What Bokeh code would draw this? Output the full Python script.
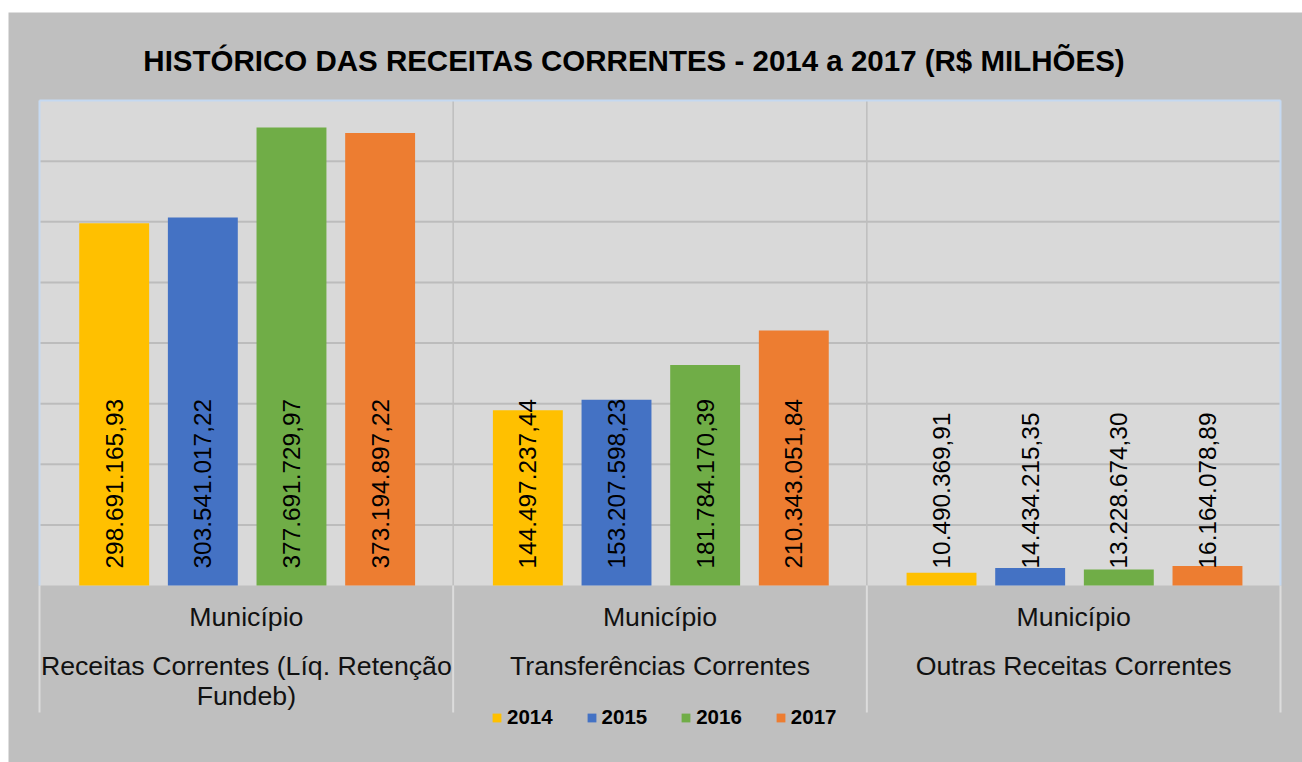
from bokeh.plotting import figure
from bokeh.models import Range1d, Legend, LegendItem, Spacer
from bokeh.layouts import column, row
from bokeh.embed import file_html
from bokeh.resources import INLINE
from bokeh.core.properties import value
import numpy as np

# ---------------- data ----------------
title_text = "HISTÓRICO DAS RECEITAS CORRENTES - 2014 a 2017 (R$ MILHÕES)"
group_level = ["Município", "Município", "Município"]
category_lines = [
    ["Receitas Correntes (Líq. Retenção", "Fundeb)"],
    ["Transferências Correntes"],
    ["Outras Receitas Correntes"],
]
years = ["2014", "2015", "2016", "2017"]
v2014 = [298691165.93, 144497237.44, 10490369.91]
v2015 = [303541017.22, 153207598.23, 14434215.35]
v2016 = [377691729.97, 181784170.39, 13228674.30]
v2017 = [373194897.22, 210343051.84, 16164078.89]
series = [v2014, v2015, v2016, v2017]
colors = ["#FFC000", "#4472C4", "#70AD47", "#ED7D31"]
y_max = 400e6
y_step = 50e6

FONT = "Liberation Sans"

# ---------------- layout geometry (page pixels) ----------------
W, H = 1294, 750          # figure size
CX0, CY0 = 8, 12          # figure origin on the page
PLOT_L, PLOT_R, PLOT_T, PLOT_B = 39, 1280, 100, 585   # plot area on the page
n_cat = len(category_lines)
ppx = (PLOT_R - PLOT_L) / n_cat
ppy = (PLOT_B - PLOT_T) / y_max


def px2x(px):
    return -0.5 + (px - PLOT_L) / ppx


def px2y(py):
    return (PLOT_B - py) / ppy


def fmt_br(v):
    s = f"{v:,.2f}"
    return s.replace(",", "X").replace(".", ",").replace("X", ".")


p = figure(width=W, height=H, output_backend="svg", toolbar_location=None,
           x_range=Range1d(px2x(CX0), px2x(CX0 + W)),
           y_range=Range1d(px2y(CY0 + H), px2y(CY0)),
           x_axis_location=None, y_axis_location=None,
           min_border=0, min_border_left=0, min_border_right=0,
           min_border_top=0, min_border_bottom=0)
p.background_fill_color = "#BFBFBF"
p.border_fill_color = "#BFBFBF"
p.outline_line_color = None
p.grid.visible = False

x_lo, x_hi = -0.5, n_cat - 0.5
# plot area background
p.quad(left=[x_lo], right=[x_hi], bottom=[0], top=[y_max], fill_color="#D9D9D9", line_color=None)

# horizontal gridlines
gy = np.arange(y_step, y_max, y_step)
p.segment(x0=[x_lo] * len(gy), x1=[x_hi] * len(gy), y0=gy, y1=gy, line_color="#BCBCBC", line_width=2)
# vertical category separators inside the plot area
sep = np.arange(0.5, n_cat - 0.5, 1.0)
p.segment(x0=sep, x1=sep, y0=[0] * len(sep), y1=[y_max] * len(sep), line_color="#BEBEBE", line_width=1.5)
# separators in the category-label area
allsep = np.arange(-0.5, n_cat, 1.0)
ybot = px2y(712)
p.segment(x0=allsep, x1=allsep, y0=[0] * len(allsep), y1=[ybot] * len(allsep),
          line_color="#DCDCDC", line_width=2)
# light-blue plot-area border (top, left, right)
p.segment(x0=[x_lo, x_hi, x_lo], x1=[x_lo, x_hi, x_hi], y0=[0, 0, y_max], y1=[y_max, y_max, y_max],
          line_color="#C5D9F1", line_width=2)

n_years = len(years)
step = 0.2143
bar_w = 0.169
cat_idx = np.arange(n_cat)
items = []
for j, (yr, vals, col) in enumerate(zip(years, series, colors)):
    xs = cat_idx + (j - (n_years - 1) / 2) * step + 0.002
    r = p.vbar(x=xs, top=vals, width=bar_w, fill_color=col, line_color=None)
    items.append(LegendItem(label=yr, renderers=[r]))
    p.text(x=xs, y=[0] * len(vals), text=[fmt_br(v) for v in vals], angle=np.pi / 2,
           text_align="left", text_baseline="middle", y_offset=-17,
           text_font=value(FONT), text_font_size="24.4px", text_color="black")

# category labels below the plot area
p.text(x=cat_idx, y=[px2y(616)] * n_cat, text=group_level, text_align="center",
       text_baseline="middle", text_font=value(FONT), text_font_size="26.7px", text_color="#111111")
for k in range(2):
    xs_k = [i for i, ln in enumerate(category_lines) if len(ln) > k]
    tx_k = [category_lines[i][k] for i in xs_k]
    p.text(x=xs_k, y=[px2y(665 + 30 * k)] * len(xs_k), text=tx_k, text_align="center",
           text_baseline="middle", text_font=value(FONT), text_font_size="26.7px",
           text_color="#111111")

# title
p.text(x=[px2x(633.5)], y=[px2y(60)], text=[title_text], text_align="center",
       text_baseline="middle", text_font=value(FONT), text_font_size="29.5px",
       text_font_style="bold", text_color="black")

legend = Legend(items=items, orientation="horizontal", location=(491 - CX0, CY0 + H - 729),
                glyph_width=11, glyph_height=11, label_standoff=5, spacing=33,
                padding=0, margin=0, border_line_color=None, background_fill_alpha=0,
                label_text_font=FONT, label_text_font_size="20.5px",
                label_text_font_style="bold", label_text_color="black")
p.add_layout(legend)

layout = column(Spacer(height=CY0, width=W + CX0), row(Spacer(width=CX0, height=H), p))
open("out.html", "w").write(file_html(layout, INLINE))
